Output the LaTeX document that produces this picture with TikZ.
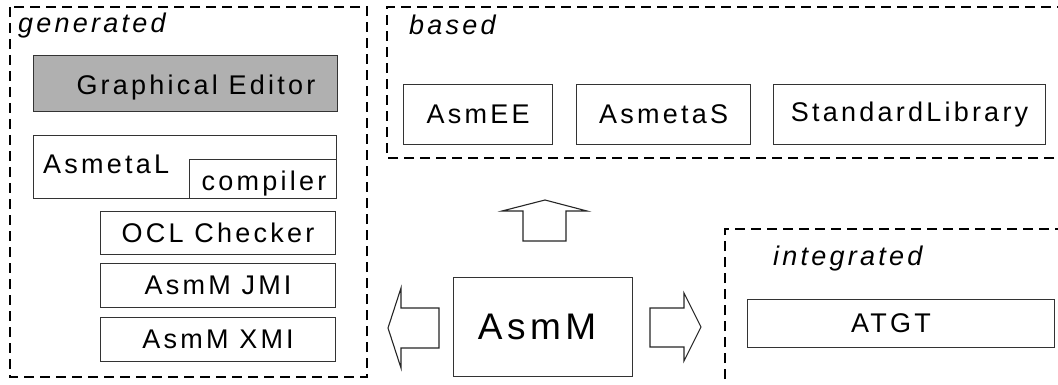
\documentclass[tikz,border=0pt]{standalone}
\usepackage{fontspec}
\setmainfont{Liberation Sans}[LetterSpace=12]
\begin{document}
\begin{tikzpicture}[x=1pt,y=-1pt,
  box/.style={draw=black!80,line width=1.1pt,inner sep=0pt,anchor=north west},
  group/.style={draw=black,line width=2.8pt,dash pattern=on 10pt off 6pt},
  txt/.style={font=\fontsize{27}{31}\selectfont,inner sep=0pt},
  lbl/.style={font=\fontsize{27}{31}\selectfont\itshape,inner sep=0pt,anchor=base west},
  blockarrow/.style={draw=black!85,line width=1.1pt,fill=white,line join=miter}]
\useasboundingbox (0,0) rectangle (1058,385);
% group frames
\draw[group] (10,7) rectangle (367,377);
\draw[group] (1070,158) -- (387,158) -- (387,7) -- (1070,7);
\draw[group] (725,395) -- (725,229) -- (1070,229);
\node[lbl] (lgen) at (18,33) {generated};
\node[lbl] (lbased) at (409,35) {based};
\node[lbl] (lint) at (773,265) {integrated};
% generated
\node[box,fill=black!31,minimum width=304pt,minimum height=56pt] (ge) at (33,55) {};
\node[txt,anchor=base] at (196,95) {Graphical Editor};
\node[box,minimum width=303pt,minimum height=63pt] (al) at (33,135) {};
\node[txt,anchor=base west] at (43,174) {AsmetaL};
\node[box,minimum width=147pt,minimum height=39pt] (comp) at (189,159) {};
\node[txt,anchor=base] at (264,190) {compiler};
\node[box,minimum width=235pt,minimum height=43pt] (ocl) at (100,211) {};
\node[txt] at (ocl.center) {OCL Checker};
\node[box,minimum width=235pt,minimum height=44pt] (jmi) at (100,263) {};
\node[txt] at (jmi.center) {AsmM JMI};
\node[box,minimum width=235pt,minimum height=44pt] (xmi) at (100,317) {};
\node[txt] at (xmi.center) {AsmM XMI};
% based
\node[box,minimum width=149pt,minimum height=60pt] (ee) at (403,84) {};
\node[txt] at (ee.center) {AsmEE};
\node[box,minimum width=174pt,minimum height=60pt] (as) at (576,84) {};
\node[txt] at (as.center) {AsmetaS};
\node[box,minimum width=272pt,minimum height=60pt] (sl) at (773,84) {};
\node[txt] at (sl.center) {StandardLibrary};
% integrated
\node[box,minimum width=307pt,minimum height=48pt] (atgt) at (747,299) {};
\node[txt] at ([xshift=-10pt]atgt.center) {ATGT};
% core
\node[box,minimum width=179pt,minimum height=99pt] (asmm) at (453,277) {};
\node[font=\fontsize{37}{42}\selectfont,inner sep=0pt] at ([xshift=-6pt]asmm.center) {AsmM};
% block arrows
\draw[blockarrow] (523,241) -- (523,211) -- (502,211) -- (545,200) -- (587,211) -- (566,211) -- (566,241) -- cycle;
\draw[blockarrow] (439,308) -- (401,308) -- (401,288) -- (388,328) -- (401,368) -- (401,348) -- (439,348) -- cycle;
\draw[blockarrow] (650,308) -- (684,308) -- (684,293) -- (701,327) -- (684,361) -- (684,347) -- (650,347) -- cycle;
\end{tikzpicture}
\end{document}
